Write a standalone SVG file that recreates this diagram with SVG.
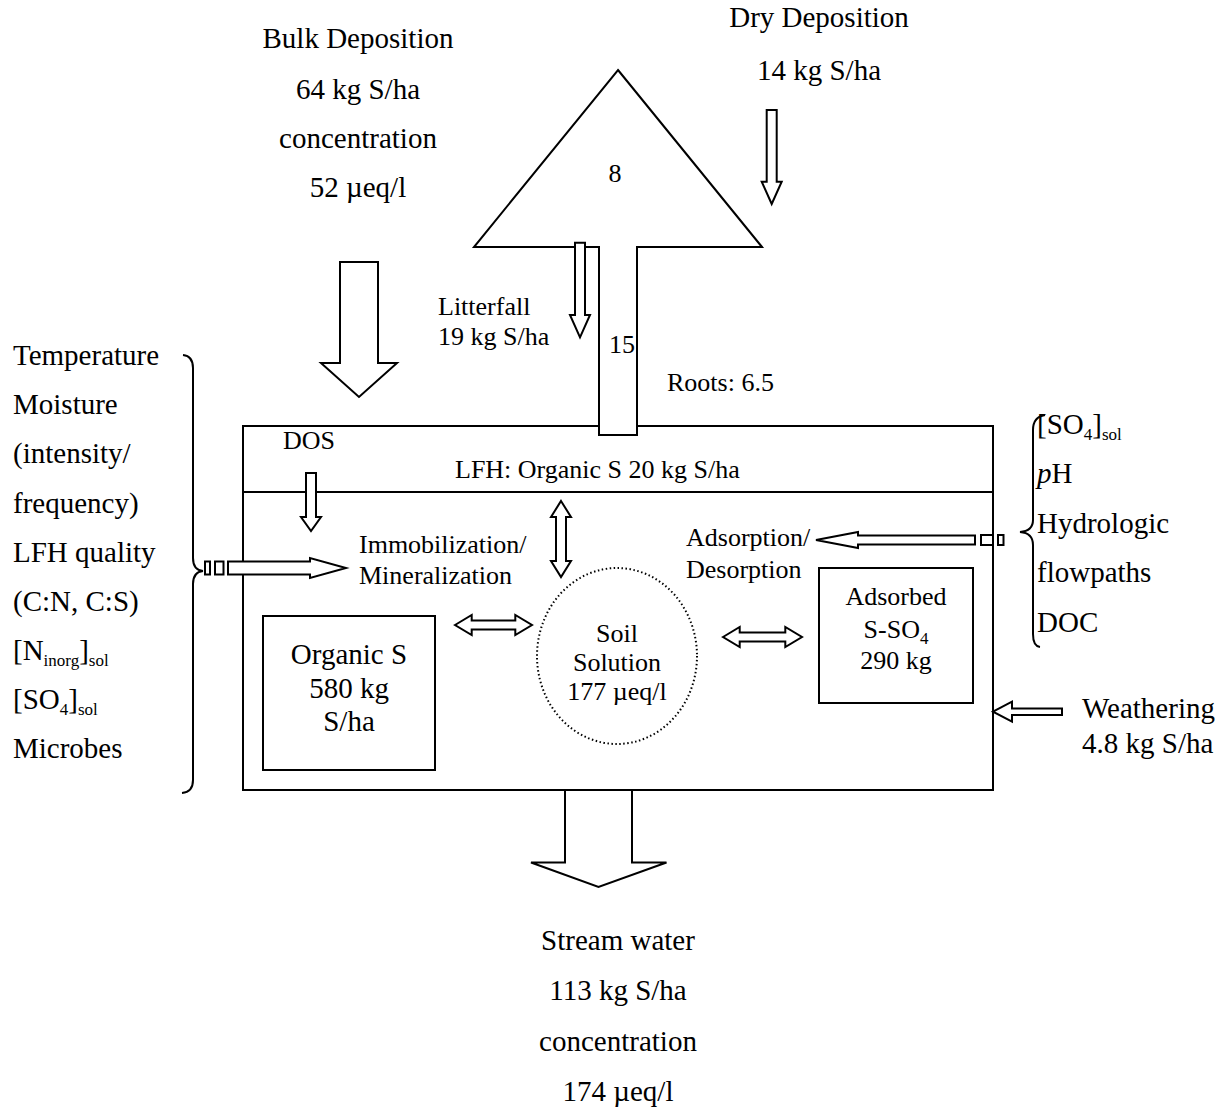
<svg xmlns="http://www.w3.org/2000/svg" width="1231" height="1110" viewBox="0 0 1231 1110">
<style>
text{font-family:"Liberation Serif","Times New Roman",serif;fill:#000}
.o{font-size:29px}
.i{font-size:26px}
.m{text-anchor:middle}
.s{stroke:#000;stroke-width:2;fill:#fff}
.l{stroke:#000;stroke-width:2;fill:none}
.sub{font-size:17px}
</style>
<rect width="1231" height="1110" fill="#fff"/>
<g id="soil-box">
<rect class="s" x="243" y="426" width="750" height="364"/>
<line class="l" x1="243" y1="492" x2="993" y2="492"/>
<text class="i" x="283" y="449">DOS</text>
<text class="i" x="455" y="478">LFH: Organic S 20 kg S/ha</text>
</g>
<g id="tree">
<path class="s" d="M618,70 L762,247 L637,247 L637,435 L599,435 L599,247 L474,247 Z"/>
<text class="i m" x="615" y="182">8</text>
<text class="i m" x="622" y="353">15</text>
</g>
<g id="organic-s">
<rect class="s" x="263" y="616" width="172" height="154"/>
<text class="o m" x="349" y="664">Organic S</text>
<text class="o m" x="349" y="698">580 kg</text>
<text class="o m" x="349" y="731">S/ha</text>
</g>
<g id="soil-solution">
<ellipse cx="617" cy="656" rx="80" ry="88" fill="none" stroke="#000" stroke-width="2" stroke-dasharray="1.5,2.5"/>
<text class="i m" x="617" y="642">Soil</text>
<text class="i m" x="617" y="671">Solution</text>
<text class="i m" x="617" y="700">177 µeq/l</text>
</g>
<g id="adsorbed">
<rect class="s" x="819" y="568" width="154" height="135"/>
<text class="i m" x="896" y="605">Adsorbed</text>
<text class="i m" x="896" y="638">S-SO<tspan class="sub" dy="6">4</tspan></text>
<text class="i m" x="896" y="669">290 kg</text>
</g>
<g id="labels">
<text class="o m" x="358" y="48">Bulk Deposition</text>
<text class="o m" x="358" y="99">64 kg S/ha</text>
<text class="o m" x="358" y="148">concentration</text>
<text class="o m" x="358" y="197">52 µeq/l</text>
<text class="o m" x="819" y="27">Dry Deposition</text>
<text class="o m" x="819" y="80">14 kg S/ha</text>
<text class="i" x="438" y="315">Litterfall</text>
<text class="i" x="438" y="345">19 kg S/ha</text>
<text class="i" x="667" y="391">Roots: 6.5</text>
<text class="i" x="359" y="553">Immobilization/</text>
<text class="i" x="359" y="584">Mineralization</text>
<text class="i" x="686" y="546">Adsorption/</text>
<text class="i" x="686" y="578">Desorption</text>
<text class="o" x="1082" y="718">Weathering</text>
<text class="o" x="1082" y="753">4.8 kg S/ha</text>
<text class="o m" x="618" y="950">Stream water</text>
<text class="o m" x="618" y="1000">113 kg S/ha</text>
<text class="o m" x="618" y="1051">concentration</text>
<text class="o m" x="618" y="1101">174 µeq/l</text>
</g>
<g id="left-factors">
<text class="o" x="13" y="365">Temperature</text>
<text class="o" x="13" y="414">Moisture</text>
<text class="o" x="13" y="463">(intensity/</text>
<text class="o" x="13" y="513">frequency)</text>
<text class="o" x="13" y="562">LFH quality</text>
<text class="o" x="13" y="611">(C:N, C:S)</text>
<text class="o" x="13" y="660">[N<tspan class="sub" dy="6">inorg</tspan><tspan dy="-6">]</tspan><tspan class="sub" dy="6">sol</tspan></text>
<text class="o" x="13" y="709">[SO<tspan class="sub" dy="6">4</tspan><tspan dy="-6">]</tspan><tspan class="sub" dy="6">sol</tspan></text>
<text class="o" x="13" y="758">Microbes</text>
<path class="l" d="M183,355 Q193,356 193,368 L193,558 Q193,570 203,571 Q193,572 193,584 L193,780 Q193,792 182,793"/>
</g>
<g id="right-factors">
<text class="o" x="1037" y="434">[SO<tspan class="sub" dy="6">4</tspan><tspan dy="-6">]</tspan><tspan class="sub" dy="6">sol</tspan></text>
<text class="o" x="1037" y="483"><tspan font-style="italic">p</tspan>H</text>
<text class="o" x="1037" y="533">Hydrologic</text>
<text class="o" x="1037" y="582">flowpaths</text>
<text class="o" x="1037" y="632">DOC</text>
<path class="l" d="M1045,415 Q1033,417 1033,430 L1033,520 Q1033,531 1020,532 Q1033,533 1033,545 L1033,634 Q1033,646 1040,647"/>
</g>
<g id="connectors">
<polygon class="s" points="340,262 378,262 378,363 397,363 359,397 321,363 340,363"/>
<polygon class="s" points="766.7,110 776.7,110 776.7,181.7 781.7,181.7 771.7,204 761.7,181.7 766.7,181.7"/>
<polygon class="s" points="575,242.7 585,242.7 585,315 590,315 580,337.3 570,315 575,315"/>
<polygon class="s" points="306,473 316,473 316,517 321,517 311,531 301,517 306,517"/>
<polygon class="s" points="565,790 632,790 632,862.5 666.5,862.5 598.5,887 531,862.5 565,862.5"/>
<polygon class="s" points="561,501 571,517 566,517 566,561 571,561 561,577 551,561 556,561 556,517 551,517"/>
<polygon class="s" points="455,625 471.7,615 471.7,620.5 515.3,620.5 515.3,615 532,625 515.3,635 515.3,629.5 471.7,629.5 471.7,635"/>
<polygon class="s" points="723,637 739.7,627 739.7,632.5 785.3,632.5 785.3,627 802,637 785.3,647 785.3,641.5 739.7,641.5 739.7,647"/>
<rect class="s" x="205" y="561.5" width="5" height="13"/>
<rect class="s" x="215" y="561.5" width="8.5" height="13"/>
<polygon class="s" points="228,561.5 310,561.5 310,558 346,568 310,578 310,574.5 228,574.5"/>
<polygon class="s" points="816,540 858,532 858,535.5 975,535.5 975,544.5 858,544.5 858,548"/>
<rect class="s" x="981" y="535" width="12" height="10"/>
<rect class="s" x="998" y="535" width="5.5" height="10"/>
<polygon class="s" points="993,711.7 1012,701.7 1012,708.5 1062,708.5 1062,715 1012,715 1012,721.7"/>
</g>
</svg>
